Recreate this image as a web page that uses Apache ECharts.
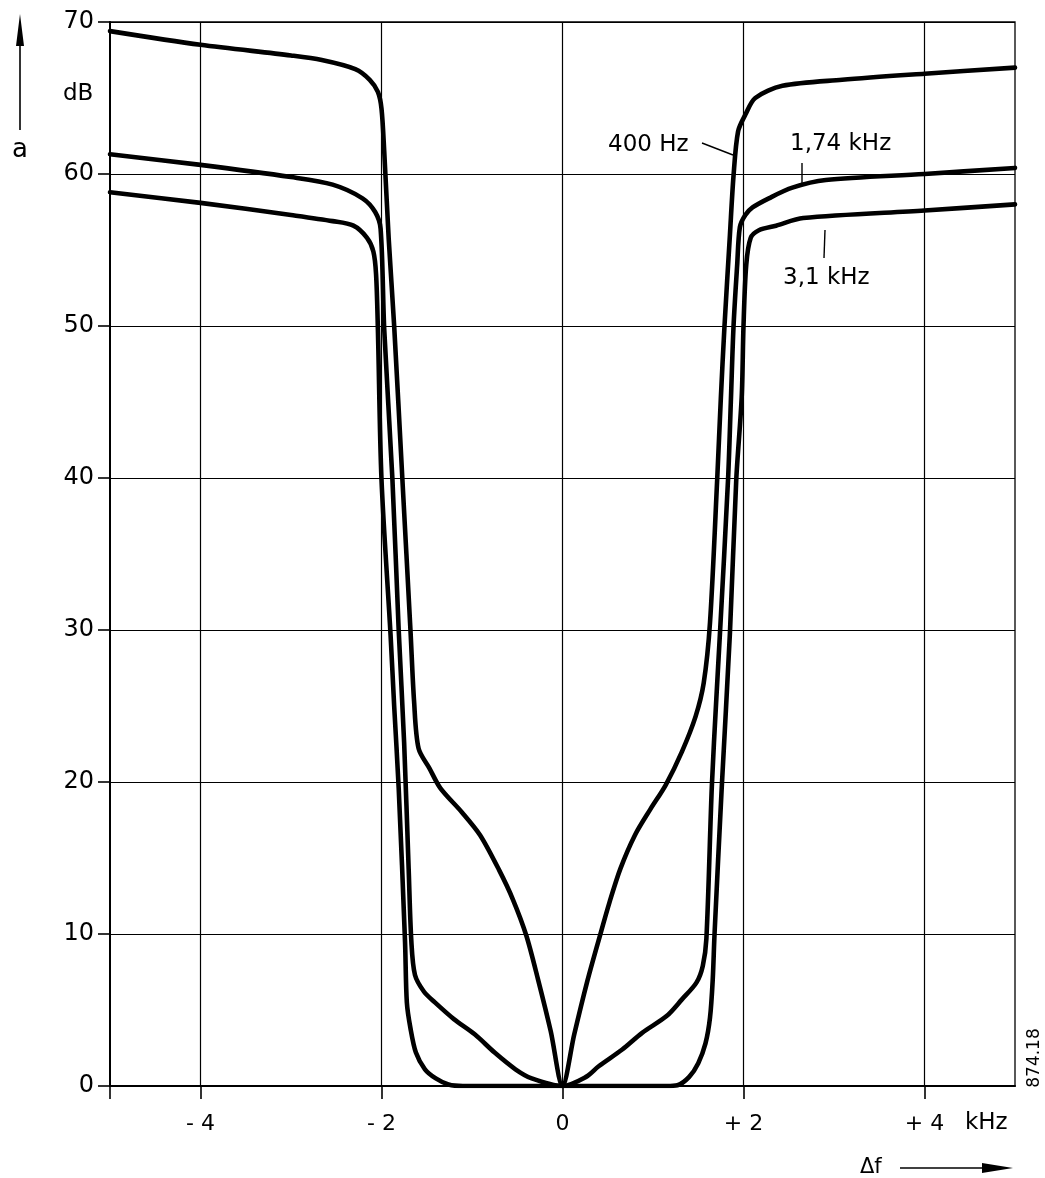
<!DOCTYPE html>
<html>
<head>
<meta charset="utf-8">
<script src="https://cdn.jsdelivr.net/npm/echarts@6/dist/echarts.min.js"></script>
<style>
html,body{margin:0;padding:0;background:#fff;}
#chart{width:1045px;height:1178px;}
</style>
</head>
<body>
<div id="chart"></div>
<script>
// x: frequency deviation (kHz), y: attenuation a (dB)
const xTickValues = [-4, -2, 0, 2, 4];
const xTickMarks = [-5, -4, -2, 0, 2, 4];

const freq400 = [-5, -4, -3, -2.66, -2.29, -2.13, -2.04, -2.0, -1.97, -1.92, -1.86, -1.77, -1.68, -1.64, -1.59, -1.47, -1.35, -1.11, -0.91, -0.70, -0.55, -0.40, -0.27, -0.13, 0, 0.13, 0.27, 0.40, 0.52, 0.64, 0.80, 0.97, 1.14, 1.32, 1.47, 1.56, 1.63, 1.71, 1.75, 1.79, 1.85, 1.89, 1.94, 2.02, 2.13, 2.43, 3.09, 4.0, 5.0];
const att400  = [69.4, 68.5, 67.8, 67.5, 66.9, 66.2, 65.4, 64.3, 61.5, 55.7, 50.0, 40.0, 30.0, 25.3, 22.2, 20.9, 19.6, 18.0, 16.5, 14.2, 12.3, 9.9, 7.0, 3.6, 0, 3.4, 6.8, 9.6, 12.1, 14.3, 16.5, 18.2, 19.8, 22.0, 24.3, 26.5, 30.5, 40.0, 45.3, 50.0, 56.0, 59.9, 62.8, 63.9, 65.0, 65.8, 66.2, 66.6, 67.0];

const freq174 = [-5, -4, -3, -2.54, -2.21, -2.07, -2.01, -1.97, -1.88, -1.81, -1.75, -1.70, -1.67, -1.63, -1.53, -1.41, -1.20, -0.97, -0.75, -0.52, -0.34, 0, 0.26, 0.40, 0.66, 0.88, 1.15, 1.32, 1.48, 1.55, 1.59, 1.65, 1.70, 1.74, 1.83, 1.86, 1.89, 1.93, 1.96, 2.02, 2.10, 2.28, 2.54, 2.91, 4.0, 5.0];
const att174  = [61.3, 60.6, 59.8, 59.3, 58.4, 57.5, 56.4, 49.8, 40.0, 30.0, 22.6, 14.3, 9.5, 7.3, 6.2, 5.5, 4.4, 3.4, 2.2, 1.1, 0.5, 0, 0.6, 1.3, 2.4, 3.5, 4.6, 5.7, 6.8, 7.9, 9.7, 19.7, 25.5, 29.8, 40.0, 45.0, 50.0, 54.0, 56.5, 57.3, 57.8, 58.4, 59.1, 59.6, 60.0, 60.4];

const freq31 = [-5, -4, -3, -2.54, -2.31, -2.16, -2.09, -2.06, -2.04, -2.0, -1.90, -1.86, -1.81, -1.74, -1.72, -1.68, -1.62, -1.52, -1.40, -1.26, -1.1, 1.15, 1.27, 1.40, 1.50, 1.58, 1.63, 1.66, 1.68, 1.76, 1.85, 1.92, 1.98, 2.0, 2.03, 2.08, 2.17, 2.36, 2.66, 4.0, 5.0];
const att31  = [58.8, 58.1, 57.3, 56.9, 56.6, 55.8, 54.9, 53.4, 49.8, 39.9, 29.7, 25.0, 19.6, 9.5, 5.5, 3.8, 2.2, 1.1, 0.5, 0.1, 0, 0, 0.05, 0.6, 1.5, 2.8, 4.5, 7.0, 10.0, 19.7, 29.8, 39.9, 45.3, 50.0, 54.0, 55.8, 56.3, 56.6, 57.1, 57.6, 58.0];

const FONT = '"DejaVu Sans", sans-serif';
const pairs = (xs, ys) => xs.map((x, i) => [x, ys[i]]);

const curveStyle = {color: '#000', width: 4.6, cap: 'round', join: 'round'};
function curve(name, xs, ys) {
  return {
    name: name, type: 'line', data: pairs(xs, ys), showSymbol: false, symbol: 'none',
    smooth: 0.3, lineStyle: curveStyle, z: 5, silent: true, animation: false
  };
}

const chart = echarts.init(document.getElementById('chart'), null, {renderer: 'canvas'});
const txt = (text, x, y, size, align, extra) => Object.assign({
  type: 'text', x: x, y: y, silent: true,
  style: {text: text, font: size + 'px ' + FONT, fill: '#000', textAlign: align || 'left', textVerticalAlign: 'middle'}
}, extra || {});
const seg = (x1, y1, x2, y2, w) => ({type: 'line', silent: true, shape: {x1, y1, x2, y2}, style: {stroke: '#000', lineWidth: w || 1.4}});
const poly = (pts) => ({type: 'polygon', silent: true, shape: {points: pts}, style: {fill: '#000'}});

chart.setOption({
  animation: false,
  backgroundColor: '#fff',
  grid: {left: 110, right: 30, top: 22, bottom: 92, show: true, borderColor: '#000', borderWidth: 1.3, backgroundColor: 'transparent'},
  xAxis: {
    type: 'value', min: -5, max: 5,
    axisLine: {show: true, onZero: false, lineStyle: {color: '#000', width: 2}},
    axisTick: {show: true, customValues: xTickMarks, length: 13, lineStyle: {color: '#000', width: 1.6}},
    axisLabel: {
      customValues: xTickValues, margin: 27, color: '#000', fontFamily: FONT, fontSize: 22,
      formatter: v => v < 0 ? '- ' + Math.abs(v) : (v > 0 ? '+ ' + v : '0')
    },
    splitLine: {show: false}
  },
  yAxis: {
    type: 'value', min: 0, max: 70, interval: 10,
    axisLine: {show: true, onZero: false, lineStyle: {color: '#000', width: 2}},
    axisTick: {show: true, length: 12, lineStyle: {color: '#000', width: 1.6}},
    axisLabel: {margin: 16, color: '#000', fontFamily: FONT, fontSize: 24},
    splitLine: {show: true, lineStyle: {color: '#000', width: 1.2}}
  },
  series: [
    {
      type: 'line', data: [], silent: true, z: 1,
      markLine: {
        silent: true, symbol: 'none', label: {show: false}, animation: false,
        lineStyle: {color: '#000', width: 1.2, type: 'solid'},
        data: xTickValues.map(v => ({xAxis: v}))
      }
    },
    curve('400 Hz', freq400, att400),
    curve('1,74 kHz', freq174, att174),
    curve('3,1 kHz', freq31, att31)
  ],
  graphic: [
    // y-axis quantity and unit
    txt('dB', 63, 94, 23),
    txt('a', 20, 150, 26, 'center'),
    seg(20, 130, 20, 40, 1.6),
    poly([[20, 14], [16, 46], [24, 46]]),
    // x-axis unit and quantity
    txt('kHz', 965, 1123, 23),
    txt('\u0394f', 860, 1168, 21),
    seg(900, 1168, 985, 1168, 1.6),
    poly([[1013, 1168], [982, 1163], [982, 1173]]),
    // curve labels with leader lines
    txt('400 Hz', 608, 145, 23),
    seg(702, 143, 733, 155, 1.4),
    txt('1,74 kHz', 790, 144, 23),
    seg(802, 163, 802, 185, 1.4),
    txt('3,1 kHz', 783, 278, 23),
    seg(825, 230, 824, 258, 1.4),
    // drawing number
    txt('874.18', 1035, 1058, 17, 'center', {rotation: Math.PI / 2})
  ]
});
</script>
</body>
</html>
